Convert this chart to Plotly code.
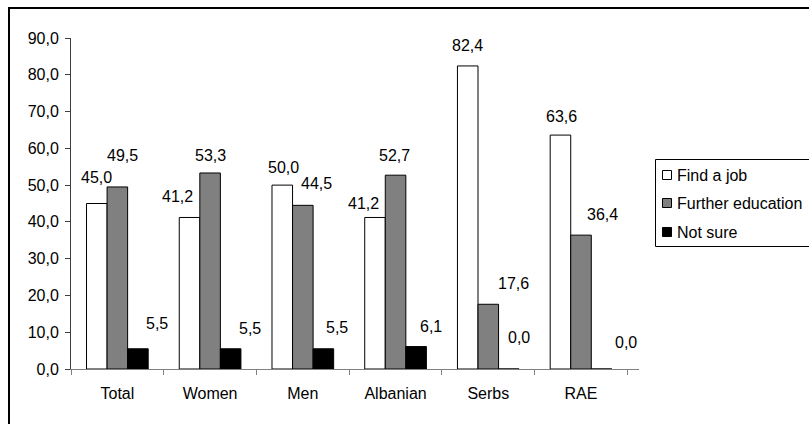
import plotly.graph_objects as go

# ---- data ----
categories = ["Total", "Women", "Men", "Albanian", "Serbs", "RAE"]
series_names = ["Find a job", "Further education", "Not sure"]
find_a_job = [45.0, 41.2, 50.0, 41.2, 82.4, 63.6]
further_education = [49.5, 53.3, 44.5, 52.7, 17.6, 36.4]
not_sure = [5.5, 5.5, 5.5, 6.1, 0.0, 0.0]
y_ticks = [0, 10, 20, 30, 40, 50, 60, 70, 80, 90]

series_values = [find_a_job, further_education, not_sure]
series_colors = ["#FFFFFF", "#808080", "#000000"]

# ---- layout geometry (pixels) ----
W, H = 809, 424
PL, PR, PT, PB = 71, 639, 38, 369
BARGAP = 0.335
FONT = dict(family="Liberation Sans, Arial, sans-serif", size=16, color="#000000")

# manual data-label nudges (dx, dy in px) relative to bar centre / bar top
label_nudge = [
    [(0, 26), (-12, 20.5), (2, 18), (-11, 14), (0, 20), (1, 19)],
    [(5, 31), (0, 17.5), (14, 21.6), (-1, 19.7), (25, 21), (21, 21)],
    [(19, 25), (19, 20.5), (13, 21.5), (14, 20), (9.5, 32), (24, 26.5)],
]


def px_x(x):
    return (x - PL) / (PR - PL)


def px_y(y):
    return (PB - y) / (PB - PT)


def fmt(v):
    return f"{v:.1f}".replace(".", ",")


def open_path(points):
    return "M " + " L ".join(f"{px_x(x):.5f},{px_y(y):.5f}" for x, y in points)


fig = go.Figure()
for name, vals, col in zip(series_names, series_values, series_colors):
    fig.add_trace(go.Bar(
        name=name, x=categories, y=vals,
        marker=dict(color=col, line=dict(color="#000000", width=1)),
        showlegend=False, hoverinfo="x+y",
    ))

# data labels
cat_px = (PR - PL) / len(categories)
bar_px = cat_px * (1 - BARGAP) / len(series_values)
annotations = []
for si, vals in enumerate(series_values):
    for ci, (cat, v) in enumerate(zip(categories, vals)):
        dx, dy = label_nudge[si][ci]
        annotations.append(dict(
            x=cat, y=v, xref="x", yref="y", text=fmt(v), showarrow=False,
            xanchor="center", yanchor="middle",
            xshift=(si - 1) * bar_px + dx, yshift=dy, font=FONT,
        ))

# manual legend (box runs off the right edge, as in the original)
shapes = []
leg_y = [175, 203, 232]
shapes.append(dict(type="path", xref="paper", yref="paper",
                   path=open_path([(900, 159.5), (655.5, 159.5), (655.5, 246.5), (900, 246.5)]),
                   line=dict(color="#000000", width=1)))
for name, col, yc in zip(series_names, series_colors, leg_y):
    shapes.append(dict(type="rect", xref="paper", yref="paper",
                       x0=px_x(662.5), x1=px_x(671.5), y0=px_y(yc + 4.5), y1=px_y(yc - 4.5),
                       line=dict(color="#000000", width=1), fillcolor=col))
    annotations.append(dict(x=px_x(675), y=px_y(yc), xref="paper", yref="paper",
                            text=name, showarrow=False, xanchor="left", yanchor="middle",
                            font=FONT))

# outer chart border (left and top edges visible)
shapes.append(dict(type="path", xref="paper", yref="paper",
                   path=open_path([(9, 500), (9, 8), (900, 8)]),
                   line=dict(color="#000000", width=2), layer="below"))

fig.update_layout(
    width=W, height=H,
    margin=dict(l=PL, r=W - PR, t=PT, b=H - PB, pad=0),
    paper_bgcolor="#FFFFFF", plot_bgcolor="#FFFFFF",
    barmode="group", bargap=BARGAP, bargroupgap=0,
    separators=",.",
    font=FONT,
    annotations=annotations, shapes=shapes,
    showlegend=False,
)
fig.update_xaxes(
    type="category", showline=True, linecolor="#808080", linewidth=1,
    ticks="outside", tickson="boundaries", ticklen=5, tickcolor="#808080",
    showgrid=False, zeroline=False, tickfont=FONT, ticklabelstandoff=10,
)
fig.update_yaxes(
    range=[0, 90], tickvals=y_ticks, tickformat=".1f",
    showline=True, linecolor="#404040", linewidth=1,
    ticks="outside", ticklen=5, tickcolor="#404040",
    showgrid=False, zeroline=False, tickfont=FONT, ticklabelstandoff=3,
)

fig.write_html(
    "out.html",
    config={"displayModeBar": False},
    post_script="document.body.style.margin='0';document.body.style.overflow='hidden';",
)
